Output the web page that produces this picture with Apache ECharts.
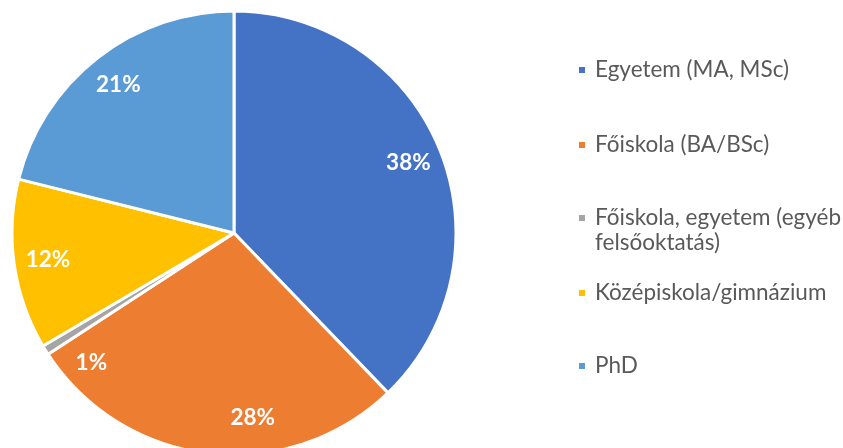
<!DOCTYPE html>
<html>
<head>
<meta charset="utf-8">
<script src="https://cdn.jsdelivr.net/npm/echarts@6/dist/echarts.min.js"></script>
<style>
  html, body { margin: 0; padding: 0; background: #fff; }
  #chart { width: 843px; height: 448px; }
</style>
</head>
<body>
<div id="chart"></div>
<script>
const categories = [
  'Egyetem (MA, MSc)',
  'Főiskola (BA/BSc)',
  'Főiskola, egyetem (egyéb felsőoktatás)',
  'Középiskola/gimnázium',
  'PhD'
];
const shares = [37.8, 28.0, 0.7, 12.4, 21.1];
const colors = ['#4472C4', '#ED7D31', '#A5A5A5', '#FFC000', '#5B9BD5'];

const chart = echarts.init(document.getElementById('chart'));

const center = [234, 233];
// Excel best-fit moved these two labels off the slice middle
const nudges = { 1: [40, -2], 2: [17, 31] };
const legendTops = [57.5, 132.5, 180.5, 280.5, 353.5];

const pieData = categories.map((name, i) => ({
  name: name,
  value: shares[i],
  itemStyle: { color: colors[i] }
}));

const labelData = categories.map((name, i) => ({
  name: name,
  value: shares[i],
  label: nudges[i] ? { offset: nudges[i] } : {}
}));

// the wrapped legend entry gets a blank first line so the marker sits on line one
const wrapName = n => n.indexOf('(egyéb ') > -1
  ? '\n' + n.replace('(egyéb ', '(egyéb\n')
  : n;

const legends = categories.map((name, i) => ({
  orient: 'vertical',
  left: 577,
  top: legendTops[i],
  padding: 0,
  icon: 'rect',
  itemWidth: 8,
  itemHeight: 8,
  selectedMode: false,
  data: [name],
  formatter: wrapName,
  textStyle: {
    fontFamily: 'Lato',
    fontSize: 22.5,
    color: '#595959',
    lineHeight: 25,
    padding: [0, 0, 0, 4]
  }
}));

const option = {
  backgroundColor: '#fff',
  animation: false,
  legend: legends,
  series: [
    {
      type: 'pie',
      center: center,
      radius: 222,
      startAngle: 90,
      clockwise: true,
      data: pieData,
      itemStyle: { borderColor: '#fff', borderWidth: 3 },
      label: { show: false },
      labelLine: { show: false },
      emphasis: { disabled: true }
    },
    {
      // transparent ring just to place the percent labels further out
      type: 'pie',
      center: center,
      radius: [148, 222],
      startAngle: 90,
      clockwise: true,
      silent: true,
      data: labelData,
      itemStyle: { color: 'transparent' },
      label: {
        show: true,
        position: 'inside',
        formatter: p => Math.round(p.value) + '%',
        color: '#fff',
        fontFamily: 'Lato',
        fontWeight: 'bold',
        fontSize: 22.5
      },
      labelLine: { show: false },
      emphasis: { disabled: true }
    }
  ]
};

chart.setOption(option);
</script>
</body>
</html>
